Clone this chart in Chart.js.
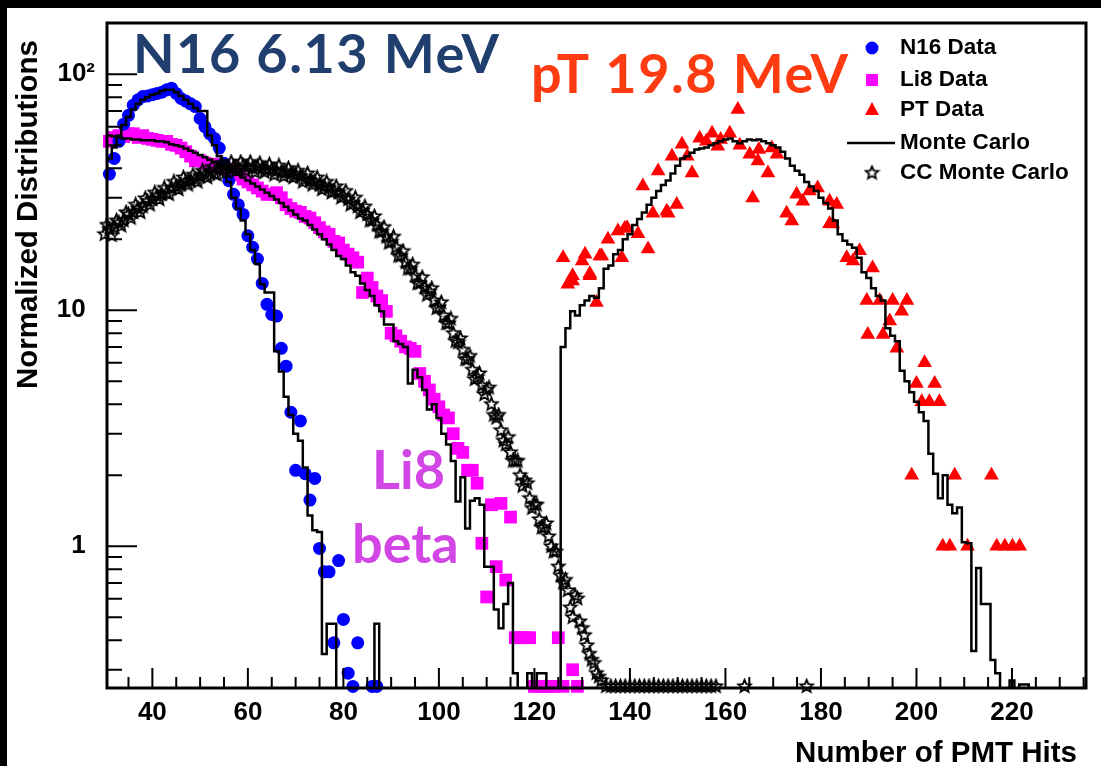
<!DOCTYPE html>
<html>
<head>
<meta charset="utf-8">
<script src="https://cdn.jsdelivr.net/npm/chart.js@4"></script>
<style>
  html, body { margin: 0; padding: 0; background: #000; }
  #wrap { position: absolute; left: 7px; top: 8px; width: 1094px; height: 758px; background: #fff; }
</style>
</head>
<body>
<div id="wrap"><canvas id="pmtChart"></canvas></div>
<script>
// N16 data (blue circles)
const n16X = [31, 32, 33, 34, 35, 36, 37, 38, 39, 40, 41, 42, 43, 44, 45, 46, 47, 48, 49, 50,
  51, 52, 53, 54, 55, 56, 57, 58, 59, 60, 61, 62, 63, 64, 65, 66, 67, 68, 69, 70,
  71, 72, 73, 74, 75, 76, 77, 78, 79, 80, 81, 82, 83, 86, 87];
const n16Y = [37.8, 44, 52, 61.5, 67, 74, 78, 80.5, 81, 82, 83, 84, 86, 87.4, 83, 79, 77, 75, 73, 65,
  60, 56, 53.5, 48.7, 42, 35.4, 31, 28, 25.5, 20.7, 18.5, 16.5, 13, 10.6, 9.6, 9.45, 6.9, 5.8, 3.7, 2.1,
  3.4, 2.03, 1.57, 1.94, 0.98, 0.78, 0.78, 0.39, 0.87, 0.49, 0.29, 0.255, 0.39, 0.255, 0.255];

// Li8 data (magenta squares)
const li8X = [31, 32, 33, 34, 35, 36, 37, 38, 39, 40, 41, 42, 43, 44, 45, 46, 47, 48, 49, 50,
  51, 52, 53, 54, 55, 56, 57, 58, 59, 60, 61, 62, 63, 64, 65, 66, 67, 68, 69, 70,
  71, 72, 73, 74, 75, 76, 77, 78, 79, 80, 81, 82, 83, 84, 85, 86, 87, 88, 89, 90,
  91, 92, 93, 94, 95, 96, 97, 98, 99, 100, 101, 102, 103, 104, 105, 106, 107, 108, 109, 110,
  111, 112, 113, 114, 115, 116, 117, 118, 119, 120, 121, 122, 123, 124, 125, 126, 128, 129];
const li8Y = [52, 54, 55, 54.5, 56, 56, 54, 55, 53.5, 53, 52.5, 52, 52, 50.5, 50, 48.7, 47, 45, 43, 43,
  42, 41.6, 41.5, 40.5, 40, 39.5, 39, 37.5, 36, 35, 34, 33, 32, 31, 31, 31.5, 30, 28, 27, 26.3,
  26, 25, 24.6, 23.5, 22.4, 21.5, 21, 19.6, 19.3, 18, 17.3, 16.7, 16, 11.9, 13.7, 12.5, 11.5, 11, 9.9, 8,
  7.8, 7.4, 7, 6.9, 6.7, 5.4, 5, 4.6, 4.2, 3.9, 3.6, 3.5, 3, 2.6, 2.5, 2.1, 2.1, 1.85, 1.03, 0.61,
  1.5, 0.82, 1.52, 0.72, 1.33, 0.41, 0.41, 0.41, 0.41, 0.255, 0.255, 0.255, 0.255, 0.255, 0.41, 0.255, 0.3, 0.255];

// PT data (red triangles)
const ptX = [126, 127, 128, 128, 130, 130.6, 131.6, 131.6, 133, 133.7, 134.1, 135.4, 137.5, 138.3, 138.9, 139.4,
  141.7, 142.7, 143.8, 144.8, 145.9, 147.7, 148, 148.8, 149.8, 150.9, 152, 153, 154.6, 156, 157.2, 158.4,
  159, 160.9, 162.6, 163, 165.1, 165.7, 166.8, 167, 168.9, 169.7, 170.8, 172.8, 173.9, 174.9, 176.2, 177.6,
  179.3, 181.8, 181.8, 182.5, 183.3, 185.4, 186.7, 188.1, 189.6, 189.8, 190.8, 192.3, 193, 194.4, 195, 195.9,
  196.9, 198, 199, 200, 201.1, 201.7, 202.7, 203.8, 204.8, 205.5, 207, 208, 210.7, 215.7, 216.8, 218.5,
  220.1, 221.6];
const ptY = [16.7, 12.9, 14, 13.3, 16.2, 17.3, 14, 14.3, 10.8, 17, 17, 20, 21.7, 16.7, 22.2, 22.4,
  21.1, 33.6, 18.2, 25.8, 38.9, 26.3, 25.8, 45, 28.1, 50.5, 45, 38.2, 53.6, 52, 56.3, 49.6,
  53, 56.3, 71, 50, 45.9, 29.9, 42.9, 48, 38.2, 48.7, 45.9, 25.8, 23.9, 31, 29, 32,
  33, 29, 23.3, 23.2, 28.1, 16.7, 16.2, 17.9, 11, 7.9, 15.1, 11, 7.9, 9, 11, 6.9,
  9.9, 11, 2, 4.9, 4.1, 6, 4.1, 4.9, 4.1, 1, 1, 2, 1, 2, 1, 1,
  1, 1];

// CC Monte Carlo (open stars), whole bins and half bins
const ccX = [30, 31, 32, 33, 34, 35, 36, 37, 38, 39, 40, 41, 42, 43, 44, 45, 46, 47, 48, 49,
  50, 51, 52, 53, 54, 55, 56, 57, 58, 59, 60, 61, 62, 63, 64, 65, 66, 67, 68, 69,
  70, 71, 72, 73, 74, 75, 76, 77, 78, 79, 80, 81, 82, 83, 84, 85, 86, 87, 88, 89,
  90, 91, 92, 93, 94, 95, 96, 97, 98, 99, 100, 101, 102, 103, 104, 105, 106, 107, 108, 109,
  110, 111, 112, 113, 114, 115, 116, 117, 118, 119, 120, 121, 122, 123, 124, 125, 126, 127, 128, 129,
  130, 131, 132, 133, 134, 135, 136, 137, 138, 139, 140, 141, 142, 143, 144, 145, 146, 147, 148, 149,
  150, 151, 152, 153, 154, 155, 156, 157, 158, 164, 177];
const ccY = [21, 22, 22.5, 23.5, 24, 25.5, 26, 27, 27.5, 29, 29.5, 30.5, 31, 31.5, 33, 33.5, 34, 35, 35.5, 36,
  37, 37.5, 38.5, 38, 39.5, 39.5, 40, 40.5, 40, 41, 40.5, 40, 40.5, 40, 39.5, 39.5, 39, 38.5, 38.5, 38,
  37.5, 37, 36, 35.5, 35, 34, 33.5, 33, 32, 31.5, 30.5, 29.5, 28.5, 27.5, 26.5, 25.5, 24, 23, 21.5, 20.5,
  19.5, 18.5, 17, 16, 15, 14, 13, 12.5, 12, 11, 10.3, 9.5, 8.8, 8, 7.3, 6.8, 6.2, 5.6, 5.2, 4.8,
  4.6, 4, 3.5, 3.1, 2.7, 2.5, 2.3, 2, 1.9, 1.6, 1.5, 1.3, 1.2, 1.1, 0.95, 0.82, 0.7, 0.65, 0.5, 0.6,
  0.45, 0.38, 0.33, 0.29, 0.27, 0.255, 0.255, 0.255, 0.255, 0.255, 0.255, 0.255, 0.255, 0.255, 0.255, 0.255, 0.255, 0.255, 0.255, 0.255,
  0.255, 0.255, 0.255, 0.255, 0.255, 0.255, 0.255, 0.255, 0.255, 0.255, 0.255];
const ccHalfX = [30.5, 31.5, 32.5, 33.5, 34.5, 35.5, 36.5, 37.5, 38.5, 39.5, 40.5, 41.5, 42.5, 43.5, 44.5, 45.5, 46.5, 47.5, 48.5, 49.5,
  50.5, 51.5, 52.5, 53.5, 54.5, 55.5, 56.5, 57.5, 58.5, 59.5, 60.5, 61.5, 62.5, 63.5, 64.5, 65.5, 66.5, 67.5, 68.5, 69.5,
  70.5, 71.5, 72.5, 73.5, 74.5, 75.5, 76.5, 77.5, 78.5, 79.5, 80.5, 81.5, 82.5, 83.5, 84.5, 85.5, 86.5, 87.5, 88.5, 89.5,
  90.5, 91.5, 92.5, 93.5, 94.5, 95.5, 96.5, 97.5, 98.5, 99.5, 100.5, 101.5, 102.5, 103.5, 104.5, 105.5, 106.5, 107.5, 108.5, 109.5,
  110.5, 111.5, 112.5, 113.5, 114.5, 115.5, 116.5, 117.5, 118.5, 119.5, 120.5, 121.5, 122.5, 123.5, 124.5, 125.5, 126.5, 127.5, 128.5, 129.5,
  130.5, 131.5, 132.5, 133.5];
const ccHalfY = [23, 20.8, 24, 22.8, 26, 24.6, 28, 26, 29.8, 28, 31.5, 29.5, 33, 31, 35, 32.5, 36.5, 34, 37.5, 35,
  39, 36.5, 40.5, 37.5, 42, 38.5, 42.5, 39, 42.5, 39, 42.5, 38.5, 42, 38.5, 41.5, 37.5, 41, 37, 40, 36.5,
  39, 35, 38, 34, 36.5, 32.5, 35, 31.5, 33.5, 30, 32, 28, 30, 26, 27.5, 24, 25, 21.5, 22.5, 19.3,
  20.5, 17, 17.8, 15, 15.6, 13, 13.8, 11.6, 12.4, 10.2, 10.8, 8.8, 9.2, 7.4, 7.6, 6.2, 6.4, 5.1, 5.4, 4.4,
  4.7, 3.6, 3.6, 2.8, 2.9, 2.3, 2.3, 1.8, 1.85, 1.45, 1.5, 1.2, 1.25, 1, 0.95, 0.75, 0.72, 0.55, 0.62, 0.48,
  0.42, 0.35, 0.32, 0.28];

// Monte Carlo histograms (bin centres, values; 0.1 = empty bin below the axis)
const mcN16X = [30, 31, 32, 33, 34, 35, 36, 37, 38, 39, 40, 41, 42, 43, 44, 45, 46, 47, 48, 49,
  50, 51, 52, 53, 54, 55, 56, 57, 58, 59, 60, 61, 62, 63, 64, 65, 66, 67, 68, 69,
  70, 71, 72, 73, 74, 75, 76, 77, 78, 79, 80, 81, 82, 83, 84, 85, 86, 87, 88];
const mcN16Y = [40, 44, 49, 55, 61, 66, 71, 75, 78, 80, 82, 83, 85, 86, 86, 84, 81, 78, 75, 72,
  70, 70, 55, 50, 45, 40, 35, 30, 27, 24, 21, 18, 15.7, 12.9, 11.9, 11.9, 6.7, 5.5, 4.3, 3.6,
  3, 2.8, 2.16, 1.35, 1.17, 1.15, 0.35, 0.47, 0.47, 0.1, 0.1, 0.1, 0.1, 0.1, 0.1, 0.1, 0.1, 0.47, 0.1];

const mcLi8X = [30, 31, 32, 33, 34, 35, 36, 37, 38, 39, 40, 41, 42, 43, 44, 45, 46, 47, 48, 49,
  50, 51, 52, 53, 54, 55, 56, 57, 58, 59, 60, 61, 62, 63, 64, 65, 66, 67, 68, 69,
  70, 71, 72, 73, 74, 75, 76, 77, 78, 79, 80, 81, 82, 83, 84, 85, 86, 87, 88, 89,
  90, 91, 92, 93, 94, 95, 96, 97, 98, 99, 100, 101, 102, 103, 104, 105, 106, 107, 108, 109,
  110, 111, 112, 113, 114, 115, 116, 117, 118, 119, 120, 121, 122, 123, 124, 125];
const mcLi8Y = [56, 55, 54.5, 54, 53.5, 53.5, 53, 53, 52.5, 52.5, 52.5, 52, 52, 51.5, 50.5, 50, 49.5, 48.5, 47.5, 46.5,
  45.5, 44.5, 43.5, 42.5, 41.5, 40.5, 39.5, 38.5, 37.5, 36.5, 35.5, 34.5, 33.5, 32.5, 31.5, 30.5, 29.5, 28.5, 27.5, 26.5,
  25.5, 24.5, 24, 23, 22, 21, 20, 19, 18, 17, 16.5, 15.5, 14.5, 14, 13, 12.2, 11.5, 10.5, 9.9, 8.7,
  8.7, 7.4, 7.2, 7, 4.9, 5.6, 5.2, 4.6, 3.8, 4, 3.5, 3, 2.7, 2.3, 1.55, 1.96, 1.19, 1.56, 1.6, 1.5,
  0.82, 0.82, 0.54, 0.45, 0.57, 0.7, 0.29, 0.1, 0.1, 0.29, 0.1, 0.29, 0.29, 0.1, 0.1, 0.1];

const mcPtX = [125, 126, 127, 128, 129, 130, 131, 132, 133, 134, 135, 136, 137, 138, 139, 140, 141, 142, 143, 144,
  145, 146, 147, 148, 149, 150, 151, 152, 153, 154, 155, 156, 157, 158, 159, 160, 161, 162, 163, 164,
  165, 166, 167, 168, 169, 170, 171, 172, 173, 174, 175, 176, 177, 178, 179, 180, 181, 182, 183, 184,
  185, 186, 187, 188, 189, 190, 191, 192, 193, 194, 195, 196, 197, 198, 199, 200, 201, 202, 203, 204,
  205, 206, 207, 208, 209, 210, 211, 212, 213, 214, 215, 216, 217, 218, 219, 220, 221, 222, 223, 224];
const mcPtY = [0.1, 7, 8.4, 9.9, 9.5, 10.5, 11, 11.5, 11.3, 12.4, 15, 15.5, 17.3, 18, 20, 21, 23, 24.4, 26, 28,
  30, 32, 34, 35.5, 38, 41, 44, 45, 46.5, 48, 48.5, 49, 50, 51, 52, 53, 53.5, 52, 51, 52,
  53, 52.5, 53, 52, 51, 50, 49, 47, 44, 41, 39, 37.5, 35, 33.5, 32, 30, 28.5, 27, 24, 21,
  19.7, 19, 18.4, 16.7, 14.5, 13.7, 12.4, 11.5, 11, 8.4, 7.8, 7.4, 5.55, 5, 4.5, 4.1, 3.7, 3.4, 2.47, 2.03,
  1.6, 2, 1.5, 1.38, 1.46, 1.04, 1.03, 0.36, 0.81, 0.57, 0.57, 0.33, 0.29, 0.1, 0.1, 0.27, 0.1, 0.26, 0.26, 0.1];

// Axis ticks
const xTickVals = [];
for (let v = 35; v <= 235; v += 5) xTickVals.push(v);
const xLabelVals = [40, 60, 80, 100, 120, 140, 160, 180, 200, 220];
const yTickVals = [0.3, 0.4, 0.5, 0.6, 0.7, 0.8, 0.9, 1, 2, 3, 4, 5, 6, 7, 8, 9, 10, 20, 30, 40, 50, 60, 70, 80, 90, 100];
// trailing spaces keep "1" and "10" lined up with the base of "10²"
const yLabels = { 1: '1 \u200A', 10: '10 \u200A', 100: '10²' };

const pts = (xs, ys) => xs.map((x, i) => ({ x: x, y: ys[i] }));

// open five-pointed star used for the CC Monte Carlo markers
function makeStar(size, lw) {
    const c = document.createElement('canvas');
    c.width = c.height = size;
    const g = c.getContext('2d');
    const R = size / 2 - lw, r = R * 0.45;
    g.beginPath();
    for (let i = 0; i < 10; i++) {
        const a = -Math.PI / 2 + i * Math.PI / 5;
        const rr = i % 2 ? r : R;
        g.lineTo(size / 2 + rr * Math.cos(a), size / 2 + rr * Math.sin(a));
    }
    g.closePath();
    g.lineWidth = lw;
    g.strokeStyle = '#000';
    g.stroke();
    return c;
}
const starImg = makeStar(17, 1.8);

Chart.defaults.font.family = '"Liberation Sans", Arial, sans-serif';
Chart.defaults.color = '#000';

const mcStyle = {
    type: 'line',
    showLine: true,
    stepped: 'middle',
    borderColor: '#000',
    borderWidth: 2.5,
    pointRadius: 0,
    fill: false,
    order: 0
};

// axes frame, inside ticks, titles, legend and labels
const decorPlugin = {
    id: 'decor',
    afterDraw(chart) {
        const ctx = chart.ctx;
        const a = chart.chartArea;
        const xs = chart.scales.x, ys = chart.scales.y;
        ctx.save();
        ctx.strokeStyle = '#000';
        ctx.lineWidth = 2;
        ctx.beginPath();
        xTickVals.forEach(v => {
            const px = xs.getPixelForValue(v);
            const len = xLabelVals.includes(v) ? 20 : 11;
            ctx.moveTo(px, a.bottom);
            ctx.lineTo(px, a.bottom - len);
        });
        yTickVals.forEach(v => {
            const py = ys.getPixelForValue(v);
            const len = yLabels[v] ? 30 : 15;
            ctx.moveTo(a.left, py);
            ctx.lineTo(a.left + len, py);
        });
        ctx.stroke();
        ctx.lineWidth = 3;
        ctx.strokeRect(a.left, a.top, a.right - a.left, a.bottom - a.top);

        // axis titles
        ctx.fillStyle = '#000';
        ctx.font = 'bold 29.5px "Liberation Sans", Arial, sans-serif';
        ctx.textAlign = 'right';
        ctx.textBaseline = 'alphabetic';
        ctx.fillText('Number of PMT Hits', 1070, 754);
        ctx.save();
        ctx.translate(30, 32);
        ctx.rotate(-Math.PI / 2);
        ctx.fillText('Normalized Distributions', 0, 0);
        ctx.restore();

        // legend
        const lx = 865, tx = 893;
        const rows = [40, 72, 102, 135, 165];
        ctx.font = 'bold 22.5px "Liberation Sans", Arial, sans-serif';
        ctx.textAlign = 'left';
        ctx.textBaseline = 'middle';
        const names = ['N16 Data', 'Li8 Data', 'PT Data', 'Monte Carlo', 'CC Monte Carlo'];
        names.forEach((n, i) => ctx.fillText(n, tx, rows[i]));
        ctx.fillStyle = '#0000ff';
        ctx.beginPath(); ctx.arc(lx, rows[0], 6.5, 0, Math.PI * 2); ctx.fill();
        ctx.fillStyle = '#ff00ff';
        ctx.fillRect(lx - 6, rows[1] - 6, 12, 12);
        ctx.fillStyle = '#ff0000';
        ctx.beginPath();
        ctx.moveTo(lx, rows[2] - 8); ctx.lineTo(lx + 7, rows[2] + 5); ctx.lineTo(lx - 7, rows[2] + 5);
        ctx.closePath(); ctx.fill();
        ctx.lineWidth = 2.5;
        ctx.beginPath(); ctx.moveTo(840, rows[3]); ctx.lineTo(888, rows[3]); ctx.stroke();
        ctx.drawImage(starImg, lx - starImg.width / 2, rows[4] - starImg.height / 2);

        // source labels
        ctx.textAlign = 'left';
        ctx.textBaseline = 'alphabetic';
        ctx.font = 'bold 54px Lato, "Open Sans", sans-serif';
        ctx.letterSpacing = '1.5px';
        ctx.fillStyle = '#213f6e';
        ctx.fillText('N16 6.13 MeV', 126, 65);
        ctx.fillStyle = '#ff3b12';
        ctx.fillText('pT 19.8 MeV', 524, 85);
        ctx.letterSpacing = '0px';
        ctx.fillStyle = '#d246e6';
        ctx.fillText('Li8', 365, 481);
        ctx.fillText('beta', 345, 555);
        ctx.restore();
    }
};

new Chart(document.getElementById('pmtChart'), {
    type: 'scatter',
    data: {
        datasets: [
            { label: 'N16 Data', data: pts(n16X, n16Y), pointStyle: 'circle', pointRadius: 6.5,
              backgroundColor: '#0000ff', borderWidth: 0, clip: false, order: 2 },
            { label: 'Li8 Data', data: pts(li8X, li8Y), pointStyle: 'rect', pointRadius: 9,
              backgroundColor: '#ff00ff', borderWidth: 0, clip: false, order: 3 },
            { label: 'PT Data', data: pts(ptX, ptY), pointStyle: 'triangle', pointRadius: 8.5,
              backgroundColor: '#ff0000', borderWidth: 0, clip: false, order: 2 },
            { label: 'CC Monte Carlo', data: pts(ccX, ccY).concat(pts(ccHalfX, ccHalfY)),
              pointStyle: starImg, pointRadius: 8, clip: false, order: 1 },
            Object.assign({ label: 'Monte Carlo', data: pts(mcN16X, mcN16Y) }, mcStyle),
            Object.assign({ label: 'Monte Carlo Li8', data: pts(mcLi8X, mcLi8Y) }, mcStyle),
            Object.assign({ label: 'Monte Carlo PT', data: pts(mcPtX, mcPtY) }, mcStyle)
        ]
    },
    options: {
        responsive: true,
        maintainAspectRatio: false,
        animation: false,
        layout: { padding: { top: 15, right: 15, left: 0, bottom: 0 } },
        plugins: {
            legend: { display: false },
            tooltip: { enabled: false }
        },
        scales: {
            x: {
                type: 'linear',
                min: 30.5,
                max: 235.5,
                grid: { display: false, drawTicks: false },
                border: { display: false },
                afterBuildTicks: s => { s.ticks = xTickVals.map(v => ({ value: v })); },
                afterFit: s => { s.height = 78; s.paddingLeft = 0; s.paddingRight = 0; },
                ticks: {
                    autoSkip: false,
                    maxRotation: 0,
                    padding: 9,
                    font: { size: 26, weight: 'bold' },
                    callback: v => xLabelVals.includes(v) ? String(v) : ''
                }
            },
            y: {
                type: 'logarithmic',
                min: 0.251,
                max: 165,
                grid: { display: false, drawTicks: false },
                border: { display: false },
                afterBuildTicks: s => { s.ticks = yTickVals.map(v => ({ value: v })); },
                afterFit: s => { s.width = 100; s.paddingTop = 0; s.paddingBottom = 0; },
                ticks: {
                    autoSkip: false,
                    padding: 12,
                    font: { size: 26, weight: 'bold' },
                    callback: v => yLabels[v] || ''
                }
            }
        }
    },
    plugins: [decorPlugin]
});
</script>
</body>
</html>
